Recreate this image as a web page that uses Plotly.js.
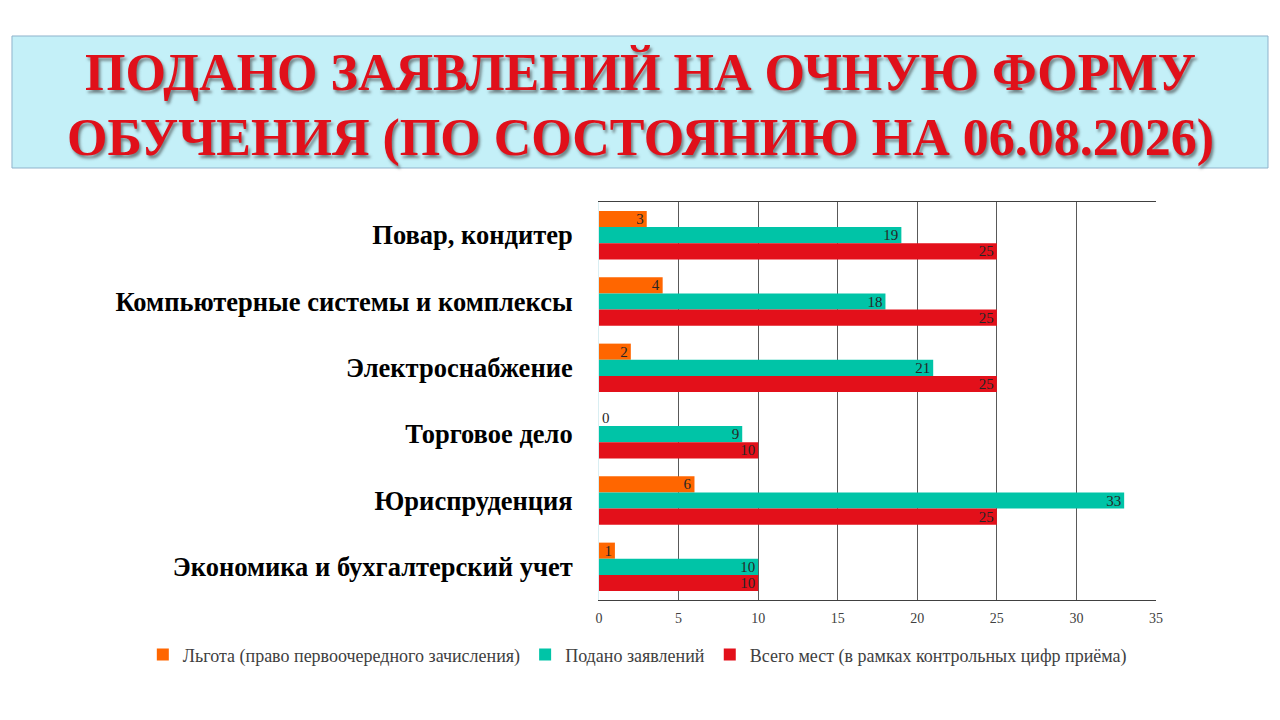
<!DOCTYPE html>
<html>
<head>
<meta charset="utf-8">
<script src="https://cdn.plot.ly/plotly-3.0.1.min.js"></script>
<style>
  html, body { margin: 0; padding: 0; background: #fff; }
  #chart { width: 1280px; height: 720px; }
</style>
</head>
<body>
<div id="chart"></div>
<script>
// specialities, top to bottom as in the slide
const categories = [
  "Повар, кондитер",
  "Компьютерные системы и комплексы",
  "Электроснабжение",
  "Торговое дело",
  "Юриспруденция",
  "Экономика и бухгалтерский учет",
];

const seriesNames = [
  "Льгота (право первоочередного зачисления)",
  "Подано заявлений",
  "Всего мест (в рамках контрольных цифр приёма)",
];

const privileged = [3, 4, 2, 0, 6, 1];
const applied = [19, 18, 21, 9, 33, 10];
const places = [25, 25, 25, 10, 25, 10];

const xTicks = [0, 5, 10, 15, 20, 25, 30, 35];

const titleLines = [
  "ПОДАНО ЗАЯВЛЕНИЙ НА ОЧНУЮ ФОРМУ",
  "ОБУЧЕНИЯ (ПО СОСТОЯНИЮ НА 06.08.2026)",
];

const colors = ["#ff6600", "#00c4a7", "#e3101a"];
const serif = "Liberation Serif, Times New Roman, serif";

function barTrace(values, name, color) {
  return {
    type: "bar",
    orientation: "h",
    y: categories,
    x: values,
    name: name,
    marker: { color: color },
    text: values.map(String),
    // a zero bar has no room inside, so its label goes just outside
    textposition: values.map(v => (v === 0 ? "outside" : "inside")),
    textangle: 0,
    insidetextanchor: "end",
    constraintext: "none",
    textfont: { family: serif, size: 15, color: "#262626" },
    cliponaxis: false,
    hoverinfo: "x+name",
  };
}

const data = [
  barTrace(privileged, seriesNames[0], colors[0]),
  barTrace(applied, seriesNames[1], colors[1]),
  barTrace(places, seriesNames[2], colors[2]),
];

const titleFont = {
  family: serif,
  size: 52,
  weight: 700,
  color: "#e0101a",
  shadow: "2px 3px 3px rgba(60,60,60,0.6)",
};

const layout = {
  width: 1280,
  height: 720,
  paper_bgcolor: "#ffffff",
  plot_bgcolor: "#ffffff",
  margin: { l: 599, r: 124, t: 202, b: 120, autoexpand: false },
  barmode: "group",
  bargap: 0.27,
  bargroupgap: 0,
  showlegend: true,
  legend: {
    orientation: "h",
    x: -0.819,
    xanchor: "left",
    y: -0.138,
    yanchor: "middle",
    itemwidth: 30,
    font: { family: serif, size: 18, color: "#404040" },
    traceorder: "normal",
  },
  xaxis: {
    range: [0, 35],
    tickmode: "array",
    tickvals: xTicks,
    showgrid: true,
    gridcolor: "#595959",
    gridwidth: 1,
    zeroline: false,
    showline: true,
    mirror: true,
    linecolor: "#404040",
    linewidth: 1,
    ticks: "",
    ticklabelstandoff: 5,
    tickfont: { family: serif, size: 14, color: "#404040" },
    fixedrange: true,
  },
  yaxis: {
    type: "category",
    autorange: "reversed",
    showgrid: false,
    zeroline: false,
    showline: true,
    linecolor: "#d9eef2",
    ticks: "",
    ticklabelstandoff: 20,
    tickfont: { family: serif, size: 26.5, weight: 700, color: "#000000" },
    fixedrange: true,
  },
  shapes: [
    {
      // light cyan banner behind the heading
      type: "rect",
      xref: "paper",
      yref: "paper",
      x0: -1.0539,
      x1: 1.2011,
      y0: 1.0854,
      y1: 1.4171,
      fillcolor: "#c4f0f8",
      line: { color: "#8fb3cc", width: 1 },
      layer: "below",
    },
  ],
  annotations: [
    {
      xref: "paper",
      yref: "paper",
      x: 0.0745,
      y: 1.326,
      xanchor: "center",
      yanchor: "middle",
      text: titleLines[0],
      showarrow: false,
      font: titleFont,
    },
    {
      xref: "paper",
      yref: "paper",
      x: 0.0745,
      y: 1.16,
      xanchor: "center",
      yanchor: "middle",
      text: titleLines[1],
      showarrow: false,
      font: titleFont,
    },
  ],
};

Plotly.newPlot("chart", data, layout, { displayModeBar: false, staticPlot: true });
</script>
</body>
</html>
